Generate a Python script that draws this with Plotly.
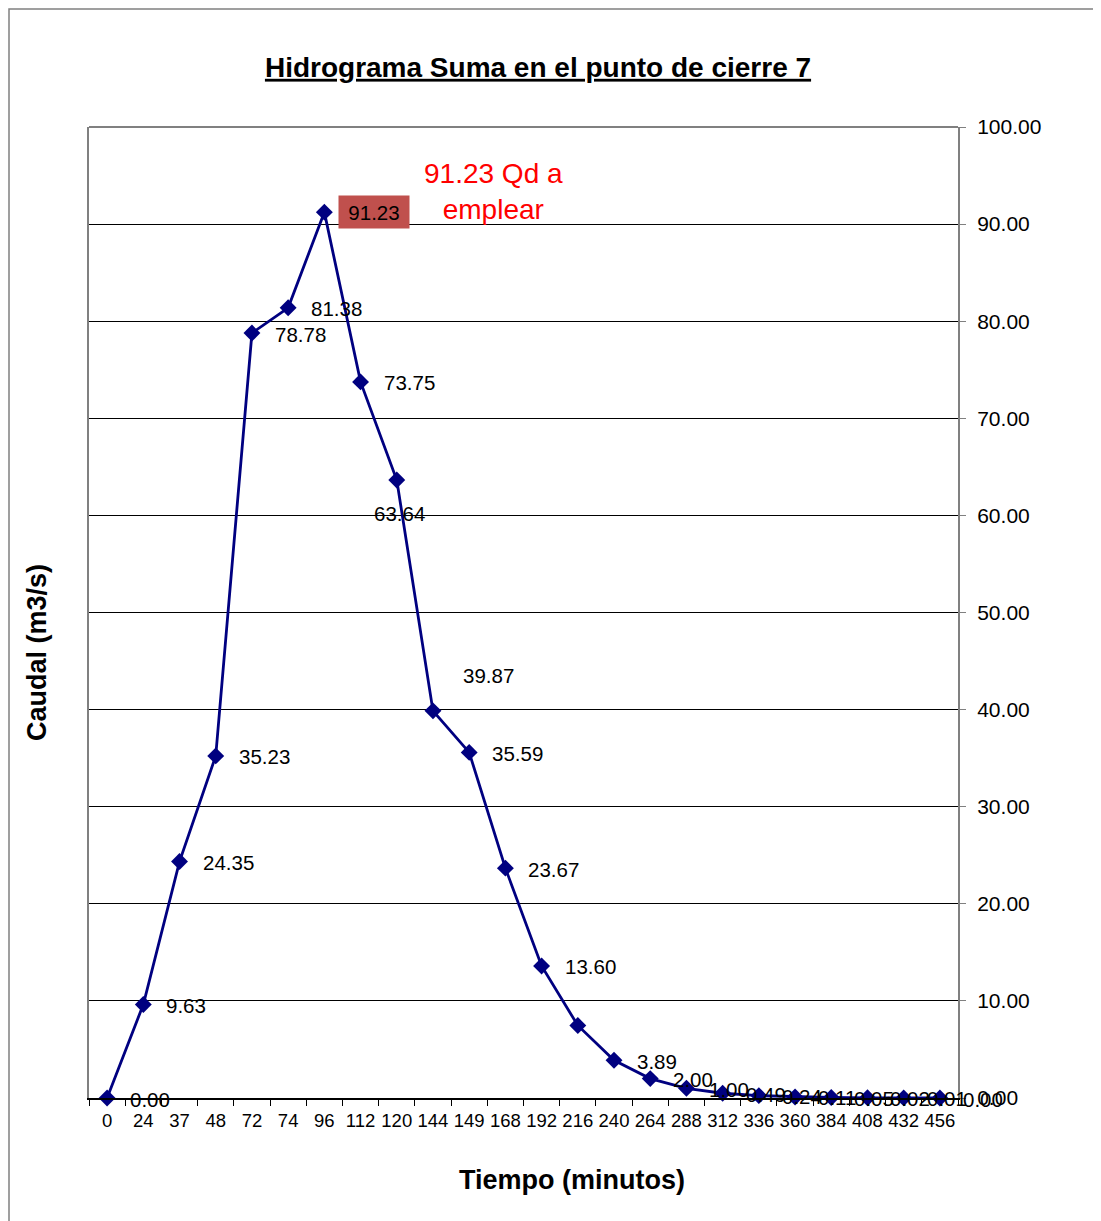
import plotly.graph_objects as go

# ---- data ----
tiempo = ["0", "24", "37", "48", "72", "74", "96", "112", "120", "144", "149", "168",
          "192", "216", "240", "264", "288", "312", "336", "360", "384", "408", "432", "456"]
caudal = [0.00, 9.63, 24.35, 35.23, 78.78, 81.38, 91.23, 73.75, 63.64, 39.87, 35.59, 23.67,
          13.60, 7.47, 3.89, 2.00, 1.00, 0.49, 0.24, 0.11, 0.05, 0.02, 0.01, 0.00]
show_label = [True] * len(tiempo)
show_label[13] = False  # 216 label not shown in original
y_ticks = [0, 10, 20, 30, 40, 50, 60, 70, 80, 90, 100]

FONT = "Liberation Sans, Arial, sans-serif"
NAVY = "#000080"

# page body has an 8px default margin -> compensate
OFF = 8
W, H = 1101 - OFF, 1221 - OFF
PL, PR, PT, PB = 89 - OFF, 958 - OFF, 127 - OFF, 1098 - OFF  # plot area pixels
PW, PH = PR - PL, PB - PT


def px(xp):
    return (xp - OFF - PL) / PW


def py(yp):
    return (PB - (yp - OFF)) / PH


fig = go.Figure()
fig.add_trace(go.Scatter(
    x=list(range(len(tiempo))), y=caudal, mode="lines+markers",
    line=dict(color=NAVY, width=2.8),
    marker=dict(symbol="diamond", size=13, color=NAVY),
    showlegend=False, cliponaxis=False,
))

annotations = []
peak_idx = caudal.index(max(caudal))
lab_font = dict(size=20.5, color="black", family=FONT)
for i, (t, v) in enumerate(zip(tiempo, caudal)):
    if not show_label[i]:
        continue
    txt = f"{v:.2f}"
    if i == peak_idx:
        annotations.append(dict(x=i, y=v, text=txt, showarrow=False, xanchor="left",
                                yanchor="middle", xshift=14, bgcolor="#C0504D",
                                width=62, height=24, borderpad=4, align="center",
                                font=lab_font))
    elif t == "120":
        annotations.append(dict(x=i, y=v, text=txt, showarrow=False, xanchor="center",
                                yanchor="middle", xshift=3, yshift=-33, font=lab_font))
    elif t == "144":
        annotations.append(dict(x=i, y=v, text=txt, showarrow=False, xanchor="left",
                                yanchor="middle", xshift=28, yshift=35, font=lab_font))
    else:
        annotations.append(dict(x=i, y=v, text=txt, showarrow=False, xanchor="left",
                                yanchor="middle", xshift=21, yshift=-1, font=lab_font))

annotations.append(dict(xref="paper", yref="paper", x=px(493), y=py(191),
                        text="91.23 Qd a<br>emplear", showarrow=False,
                        xanchor="center", yanchor="middle",
                        font=dict(size=28, color="#FF0000", family=FONT)))
annotations.append(dict(xref="paper", yref="paper", x=px(37), y=py(653),
                        text="<b>Caudal (m3/s)</b>", showarrow=False, textangle=-90,
                        xanchor="center", yanchor="middle",
                        font=dict(size=27, color="black", family=FONT)))
annotations.append(dict(xref="paper", yref="paper", x=px(572), y=py(1180),
                        text="<b>Tiempo (minutos)</b>", showarrow=False,
                        xanchor="center", yanchor="middle",
                        font=dict(size=27, color="black", family=FONT)))

fig.update_layout(
    width=W, height=H,
    margin=dict(l=PL, r=W - PR, t=PT, b=H - PB, autoexpand=False),
    paper_bgcolor="white", plot_bgcolor="white",
    font=dict(family=FONT, color="black"),
    title=dict(text="<b><u>Hidrograma Suma en el punto de cierre 7</u></b>",
               x=px(538), xanchor="center", y=1 - (67 - OFF) / H, yanchor="middle",
               xref="paper",
               font=dict(size=28, color="black", family=FONT)),
    annotations=annotations,
    shapes=[
        dict(type="line", xref="paper", yref="paper", x0=0, x1=1, y0=1, y1=1,
             line=dict(color="#808080", width=2), layer="above"),
        dict(type="rect", xref="paper", yref="paper",
             x0=px(OFF + 1), x1=px(1101 + 5), y0=py(1221 + 5), y1=py(OFF + 1),
             line=dict(color="#808080", width=1.5), layer="below"),
    ],
)

fig.update_xaxes(
    range=[-0.5, len(tiempo) - 0.5],
    tickvals=list(range(len(tiempo))), ticktext=tiempo,
    showgrid=False, showline=True, linecolor="black", linewidth=1.5,
    ticks="", ticklabelstandoff=5,
    tickfont=dict(size=18.5, color="black", family=FONT), tickangle=0,
    zeroline=False,
    minor=dict(tickvals=[i - 0.5 for i in range(len(tiempo) + 1)], ticks="outside",
               ticklen=6, tickcolor="black", showgrid=False),
)
fig.update_yaxes(
    range=[0, 100], tickvals=y_ticks, ticktext=[f"{v:.2f}" for v in y_ticks],
    side="right", showgrid=True, gridcolor="black", gridwidth=1,
    showline=True, linecolor="#808080", linewidth=2, mirror=True,
    ticks="outside", ticklen=6, tickcolor="#808080", ticklabelstandoff=7,
    tickfont=dict(size=21, color="black", family=FONT), zeroline=False,
)

fig.write_html("out.html")
